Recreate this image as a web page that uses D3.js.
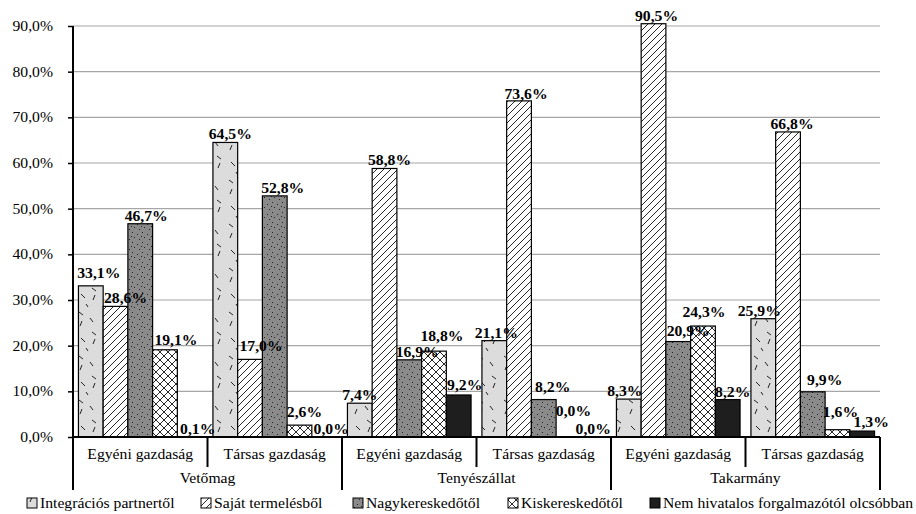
<!DOCTYPE html>
<html><head><meta charset="utf-8">
<script src="https://cdn.jsdelivr.net/npm/d3@7"></script>
<style>
html,body{margin:0;padding:0;background:#fff;}
</style></head>
<body><svg id="c" width="916" height="514"></svg>
<script>
const categories = ["Vetőmag", "Tenyészállat", "Takarmány"];
const subgroups = ["Egyéni gazdaság", "Társas gazdaság"];
const seriesNames = ["Integrációs partnertől", "Saját termelésből", "Nagykereskedőtől", "Kiskereskedőtől", "Nem hivatalos forgalmazótól olcsóbban"];
const integracios = [33.1, 64.5, 7.4, 21.1, 8.3, 25.9];
const sajat = [28.6, 17.0, 58.8, 73.6, 90.5, 66.8];
const nagyker = [46.7, 52.8, 16.9, 8.2, 20.9, 9.9];
const kisker = [19.1, 2.6, 18.8, 0.0, 24.3, 1.6];
const nemHivatalos = [0.1, 0.0, 9.2, 0.0, 8.2, 1.3];
const yTicks = [0, 10, 20, 30, 40, 50, 60, 70, 80, 90];

const seriesValues = [integracios, sajat, nagyker, kisker, nemHivatalos];
const fills = ["url(#pInteg)", "url(#pSajat)", "url(#pNagy)", "url(#pKisk)", "#1e1e1e"];
const fmt = v => v.toFixed(1).replace(".", ",") + "%";
// label nudges (layout only): "series-group" -> [dx, dy]
const labelNudge = {
  "0-0": [0, -5], "1-0": [2, 0], "2-0": [-2, 0], "3-0": [3, -2],
  "0-1": [-3, 0], "1-1": [3, -5], "3-1": [-3, -5], "4-1": [-1, 0],
  "0-2": [-8, 0], "1-2": [-3, 0], "3-2": [0, -7], "4-2": [-2, -2],
  "0-3": [-6, 0], "1-3": [-1, 1], "2-3": [1, -5], "3-3": [-3, -18], "4-3": [-8, 0],
  "0-4": [-12, 0], "1-4": [-5, 0], "2-4": [2, -3], "3-4": [-7, -6], "4-4": [-3, 0],
  "0-5": [-12, 0], "1-5": [-4, 0], "2-5": [4, -4], "3-5": [-5, -10], "4-5": [1, -1]
};

const FONT = "'Liberation Serif', Tinos, 'Times New Roman', serif";
const svg = d3.select("#c");
const SX = 1.12;
function txt(g, x, y, s, opts) {
  opts = opts || {};
  return g.append("text")
    .attr("transform", `translate(${x},${y}) scale(${SX},1)`)
    .attr("text-anchor", opts.anchor || "middle")
    .attr("font-family", FONT)
    .attr("font-size", (opts.size || 14))
    .attr("font-weight", opts.bold ? "bold" : "normal")
    .attr("fill", "#000")
    .text(s);
}

// patterns
const defs = svg.append("defs");
const pI = defs.append("pattern").attr("id", "pInteg").attr("patternUnits", "userSpaceOnUse").attr("width", 25).attr("height", 44);
pI.append("rect").attr("width", 25).attr("height", 44).attr("fill", "#dcdcdc");
[[4,4,8,7],[15,10,18,14],[5,18,7,13],[17,24,21,27],[6,30,10,34],[18,36,20,31],[11,40,13,43]].forEach(d =>
  pI.append("line").attr("x1", d[0]).attr("y1", d[1]).attr("x2", d[2]).attr("y2", d[3]).attr("stroke", "#222").attr("stroke-width", 1));
const pS = defs.append("pattern").attr("id", "pSajat").attr("patternUnits", "userSpaceOnUse").attr("width", 7).attr("height", 7);
pS.append("rect").attr("width", 7).attr("height", 7).attr("fill", "#fff");
pS.append("path").attr("d", "M-1,8 L8,-1 M-1,1 L1,-1 M6,8 L8,6").attr("stroke", "#111").attr("stroke-width", 0.9);
const pN = defs.append("pattern").attr("id", "pNagy").attr("patternUnits", "userSpaceOnUse").attr("width", 10).attr("height", 10);
pN.append("rect").attr("width", 10).attr("height", 10).attr("fill", "#8a8a8a");
[[2,2],[7,4],[4,7],[9,9],[1,6]].forEach(d => pN.append("rect").attr("x", d[0]).attr("y", d[1]).attr("width", 1).attr("height", 1).attr("fill", "#222"));
const pK = defs.append("pattern").attr("id", "pKisk").attr("patternUnits", "userSpaceOnUse").attr("width", 8).attr("height", 8);
pK.append("rect").attr("width", 8).attr("height", 8).attr("fill", "#fff");
pK.append("path").attr("d", "M0,8 L8,0 M0,0 L8,8 M-1,1 L1,-1 M7,9 L9,7 M-1,7 L1,9 M7,-1 L9,1").attr("stroke", "#111").attr("stroke-width", 0.9);

// scales
const groupKeys = d3.range(categories.length * subgroups.length);
const x0 = d3.scaleBand().domain(groupKeys).range([73, 880]).padding(0);
const x1 = d3.scaleBand().domain(d3.range(seriesNames.length)).range([0, x0.bandwidth()]).paddingInner(0).paddingOuter(0.22);
const y = d3.scaleLinear().domain([0, 90]).range([437, 26]);

// grid
svg.append("g").selectAll("line").data(yTicks.filter(t => t > 0)).join("line")
  .attr("x1", 73).attr("x2", 880).attr("y1", d => y(d)).attr("y2", d => y(d))
  .attr("stroke", "#a6a6a6").attr("stroke-width", 1.2);

// bars
const barG = svg.append("g");
seriesValues.forEach((vals, si) => {
  barG.append("g").selectAll("rect").data(vals).join("rect")
    .attr("x", (d, i) => x0(i) + x1(si))
    .attr("y", d => y(d))
    .attr("width", x1.bandwidth())
    .attr("height", d => y(0) - y(d))
    .attr("fill", fills[si])
    .attr("stroke", "#000").attr("stroke-width", 1.2);
});

// y axis
const yAxis = svg.append("g").attr("transform", "translate(73,0)")
  .call(d3.axisLeft(y).tickValues(yTicks).tickSize(5).tickFormat(d => fmt(d)));
yAxis.select(".domain").remove();
yAxis.selectAll(".tick line").attr("stroke", "#000").attr("stroke-width", 1.5);
yAxis.selectAll(".tick text").remove();
yTicks.forEach(t => txt(svg, 53, y(t) + 5, fmt(t), {anchor: "end", size: 14}));
svg.append("line").attr("x1", 73).attr("x2", 73).attr("y1", y(90)).attr("y2", 490).attr("stroke", "#000").attr("stroke-width", 2);

// x axis
svg.append("line").attr("x1", 73).attr("x2", 880).attr("y1", y(0)).attr("y2", y(0)).attr("stroke", "#000").attr("stroke-width", 2);
groupKeys.forEach(i => {
  const xr = x0(i) + x0.bandwidth();
  const isCatEnd = (i % subgroups.length) === subgroups.length - 1;
  svg.append("line").attr("x1", xr).attr("x2", xr).attr("y1", y(0)).attr("y2", isCatEnd ? 490 : 467)
    .attr("stroke", "#000").attr("stroke-width", 2);
  txt(svg, x0(i) + x0.bandwidth() / 2, 459, subgroups[i % subgroups.length], {size: 14});
});
categories.forEach((c, ci) => {
  const xa = x0(ci * subgroups.length), xb = x0(ci * subgroups.length + subgroups.length - 1) + x0.bandwidth();
  txt(svg, (xa + xb) / 2, 483, c, {size: 14});
});

// labels
seriesValues.forEach((vals, si) => {
  vals.forEach((v, i) => {
    const n = labelNudge[si + "-" + i] || [0, 0];
    txt(svg, x0(i) + x1(si) + x1.bandwidth() / 2 + 8 + n[0], y(v) - 3 + n[1], fmt(v), {bold: true, size: 14});
  });
});

// legend
const legX = [27, 201, 353, 508, 650];
seriesNames.forEach((n, si) => {
  svg.append("rect").attr("x", legX[si]).attr("y", 498).attr("width", 10).attr("height", 10)
    .attr("fill", fills[si]).attr("stroke", "#000").attr("stroke-width", 1);
  txt(svg, legX[si] + 13, 508, n, {anchor: "start", size: 14});
});
</script></body></html>
